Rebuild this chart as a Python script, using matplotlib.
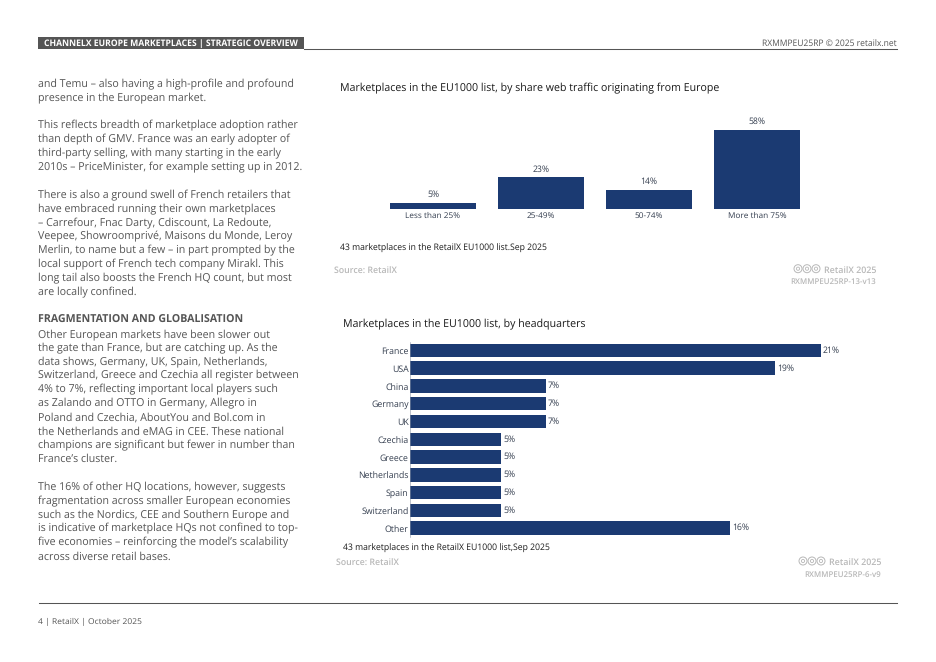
import matplotlib
matplotlib.use('Agg')
import matplotlib.pyplot as plt
from matplotlib.patches import Circle, Rectangle

plt.rcParams['font.family'] = ['Open Sans', 'DejaVu Sans']
plt.rcParams['text.hinting'] = 'no_hinting'

# ---- data ----
traffic_labels = ['Less than 25%', '25-49%', '50-74%', 'More than 75%']
traffic_values = [4.65, 23.3, 14.0, 58.1]

hq_labels = ['France', 'USA', 'China', 'Germany', 'UK', 'Czechia', 'Greece',
             'Netherlands', 'Spain', 'Switzerland', 'Other']
hq_values = [21.0, 18.65, 6.95, 6.95, 6.95, 4.65, 4.65, 4.65, 4.65, 4.65, 16.35]

body_lines = [
    'and Temu – also having a high-profile and profound',
    'presence in the European market.',
    '',
    'This reflects breadth of marketplace adoption rather',
    'than depth of GMV. France was an early adopter of',
    'third-party selling, with many starting in the early',
    '2010s – PriceMinister, for example setting up in 2012.',
    '',
    'There is also a ground swell of French retailers that',
    'have embraced running their own marketplaces',
    '– Carrefour, Fnac Darty, Cdiscount, La Redoute,',
    'Veepee, Showroomprivé, Maisons du Monde, Leroy',
    'Merlin, to name but a few – in part prompted by the',
    'local support of French tech company Mirakl. This',
    'long tail also boosts the French HQ count, but most',
    'are locally confined.',
    '',
    'FRAGMENTATION AND GLOBALISATION',
    'Other European markets have been slower out',
    'the gate than France, but are catching up. As the',
    'data shows, Germany, UK, Spain, Netherlands,',
    'Switzerland, Greece and Czechia all register between',
    '4% to 7%, reflecting important local players such',
    'as Zalando and OTTO in Germany, Allegro in',
    'Poland and Czechia, AboutYou and Bol.com in',
    'the Netherlands and eMAG in CEE. These national',
    'champions are significant but fewer in number than',
    'France’s cluster.',
    '',
    'The 16% of other HQ locations, however, suggests',
    'fragmentation across smaller European economies',
    'such as the Nordics, CEE and Southern Europe and',
    'is indicative of marketplace HQs not confined to top-',
    'five economies – reinforcing the model’s scalability',
    'across diverse retail bases.',
]

W, H = 936, 662
NAVY = '#1B3A72'
GREY = '#555555'
PALE = '#B8B8B8'
LABEL = '#333D4E'


def px_axes(fig, left, top, right, bottom, **kw):
    # axes placed by pixel box, y measured from top of the page
    return fig.add_axes([left / W, 1 - bottom / H, (right - left) / W, (bottom - top) / H], **kw)


fig = plt.figure(figsize=(W / 100, H / 100), dpi=100, facecolor='white')

# page layer in pixel coordinates
page = px_axes(fig, 0, 0, W, H)
page.set_xlim(0, W)
page.set_ylim(H, 0)
page.axis('off')


def put(x, y, s, size=6.2, color=GREY, ha='left', **kw):
    page.text(x, y, s, fontsize=size, color=color, ha=ha, va='center', **kw)


# header and footer
page.add_patch(Rectangle((38, 37), 266, 12, color=GREY, lw=0))
put(44, 43.2, 'CHANNELX EUROPE MARKETPLACES | STRATEGIC OVERVIEW', size=6.2, color='white', weight='bold')
page.plot([304, 897], [49.3, 49.3], color=GREY, lw=0.75)
put(897, 43.2, 'RXMMPEU25RP © 2025 retailx.net', size=6.15, ha='right')
page.plot([39, 897], [602.5, 602.5], color=GREY, lw=0.75)
put(38, 621.5, '4 | RetailX | October 2025', size=6.1)

# body column
for i, line in enumerate(body_lines):
    if line:
        put(38, 84 + i * 13.9, line, size=7.7, weight='bold' if line.isupper() else 'normal')

# chart captions
put(340, 88, 'Marketplaces in the EU1000 list, by share web traffic originating from Europe', size=7.68, color='#1A1A1A')
put(340, 248.5, '43 marketplaces in the RetailX EU1000 list.Sep 2025', size=6.24, color='#1A1A1A')
put(334, 270.5, 'Source: RetailX', size=6.3, color=PALE, weight='semibold')
put(876, 270.5, 'RetailX 2025', size=6.4, color=PALE, ha='right', weight='semibold')
put(876, 282, 'RXMMPEU25RP-13-v13', size=5.7, color=PALE, ha='right', weight='semibold')

put(343, 324, 'Marketplaces in the EU1000 list, by headquarters', size=7.68, color='#1A1A1A')
put(343, 548.5, '43 marketplaces in the RetailX EU1000 list,Sep 2025', size=6.2, color='#1A1A1A')
put(336, 562.5, 'Source: RetailX', size=6.3, color=PALE, weight='semibold')
put(881, 562.5, 'RetailX 2025', size=6.4, color=PALE, ha='right', weight='semibold')
put(881, 574.5, 'RXMMPEU25RP-6-v9', size=5.7, color=PALE, ha='right', weight='semibold')

# licence badges
for cx, cy in [(798, 268.7), (807, 268.7), (816, 268.7), (803, 561), (812, 561), (821, 561)]:
    page.add_patch(Circle((cx, cy), 4, fill=False, ec=PALE, lw=0.7))
    page.add_patch(Circle((cx, cy), 1.6, fill=False, ec=PALE, lw=0.6))

# ---- top chart ----
ax1 = px_axes(fig, 379, 120.5, 811, 209)
ax1.patch.set_alpha(0)
bars = ax1.bar(range(len(traffic_labels)), traffic_values, width=0.79, color=NAVY)
ax1.bar_label(bars, labels=[f'{v:.0f}%' for v in traffic_values], padding=2.5, fontsize=6.2, color=LABEL)
ax1.set_xlim(-0.5, 3.5)
ax1.set_ylim(0, 65)
ax1.set_xticks(range(len(traffic_labels)))
ax1.set_xticklabels(traffic_labels, fontsize=5.94, color=LABEL)
ax1.tick_params(axis='x', length=0, pad=2)
ax1.set_yticks([])
for s in ax1.spines.values():
    s.set_visible(False)

# ---- bottom chart ----
ax2 = px_axes(fig, 410, 341.6, 899.25, 536.9)
ax2.patch.set_alpha(0)
bars = ax2.barh(range(len(hq_labels)), hq_values, height=0.76, color=NAVY)
ax2.bar_label(bars, labels=[f'{v:.0f}%' for v in hq_values], padding=1.5, fontsize=6.2, color=LABEL)
ax2.set_xlim(0, 25)
ax2.set_ylim(10.5, -0.5)
ax2.set_yticks(range(len(hq_labels)))
ax2.set_yticklabels(hq_labels, fontsize=6.35, color=LABEL)
ax2.tick_params(axis='y', length=0, pad=1)
ax2.set_xticks([])
for s in ax2.spines.values():
    s.set_visible(False)
ax2.spines['left'].set_visible(True)
ax2.spines['left'].set_linewidth(0.4)
ax2.spines['left'].set_color('#8A94A8')

plt.savefig('out.png', dpi=100)
